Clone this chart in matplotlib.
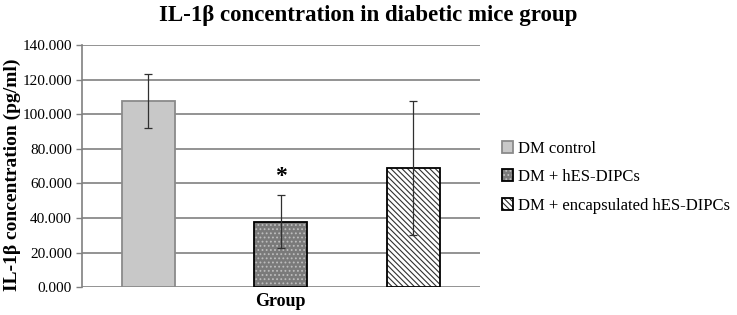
import matplotlib
matplotlib.use("Agg")
import matplotlib.pyplot as plt
from matplotlib.legend_handler import HandlerTuple

groups = ["DM control", "DM + hES-DIPCs", "DM + encapsulated hES-DIPCs"]
means = [107.7, 38.0, 68.8]
errors = [15.8, 15.1, 38.6]
yticks = [0, 20, 40, 60, 80, 100, 120, 140]

faces = ["#c8c8c8", "#7a7a7a", "white"]
hatch_colors = ["#c8c8c8", "#bdbdbd", "#303030"]
hatches = [None, "....", "\\\\\\\\\\\\"]
edges = ["#8a8a8a", "black", "black"]

plt.rcParams["font.family"] = ["Liberation Serif", "DejaVu Serif"]
plt.rcParams["hatch.linewidth"] = 0.8

W, H = 737, 315
fig = plt.figure(figsize=(W / 100, H / 100), dpi=100)
ax = fig.add_axes([0.111, 0.088, 0.54, 0.769])

handles = []
for i, (g, m, e) in enumerate(zip(groups, means, errors)):
    h1 = ax.bar(i, m, width=0.4, color=faces[i], edgecolor=hatch_colors[i],
                hatch=hatches[i], linewidth=0, zorder=2)[0]
    h2 = ax.bar(i, m, width=0.4, fill=False, edgecolor=edges[i],
                linewidth=1.3, zorder=3)[0]
    ax.errorbar(i, m, yerr=e, fmt="none", ecolor="#303030", elinewidth=0.9,
                capsize=3, capthick=0.9, zorder=4)
    handles.append((h1, h2))

ax.text(1, 64, "*", ha="center", va="center", fontsize=17, fontweight="bold")

ax.set_xlim(-0.5, 2.5)
ax.set_ylim(0, 140)
ax.set_yticks(yticks)
ax.set_yticklabels([f"{v:.3f}" for v in yticks], fontsize=11)
ax.set_xticks([])
ax.yaxis.grid(True, color="#808080", linewidth=1.2, zorder=0)
ax.set_axisbelow(True)
for s in ["top", "right", "bottom"]:
    ax.spines[s].set_visible(False)
ax.spines["left"].set_color("#808080")
ax.spines["left"].set_linewidth(1.2)
ax.tick_params(axis="y", length=4, color="#808080", width=1, pad=3)

ax.set_xlabel("Group", fontsize=13, fontweight="bold", labelpad=4)
fig.text(12 / W, 1 - 175 / H, "IL-1β concentration (pg/ml)", rotation=90,
         ha="center", va="center", fontsize=14, fontweight="bold")
fig.suptitle("IL-1β concentration in diabetic mice group", fontsize=16.5,
             fontweight="bold", x=0.5, y=0.985)

ax.legend(handles, groups, handler_map={tuple: HandlerTuple(ndivide=1)},
          loc="center left", bbox_to_anchor=(1.055, 0.455), frameon=False,
          fontsize=12, handlelength=0.7, handleheight=0.7, handletextpad=0.25,
          labelspacing=0.75, borderpad=0, borderaxespad=0)

fig.savefig("out.png", dpi=100)
